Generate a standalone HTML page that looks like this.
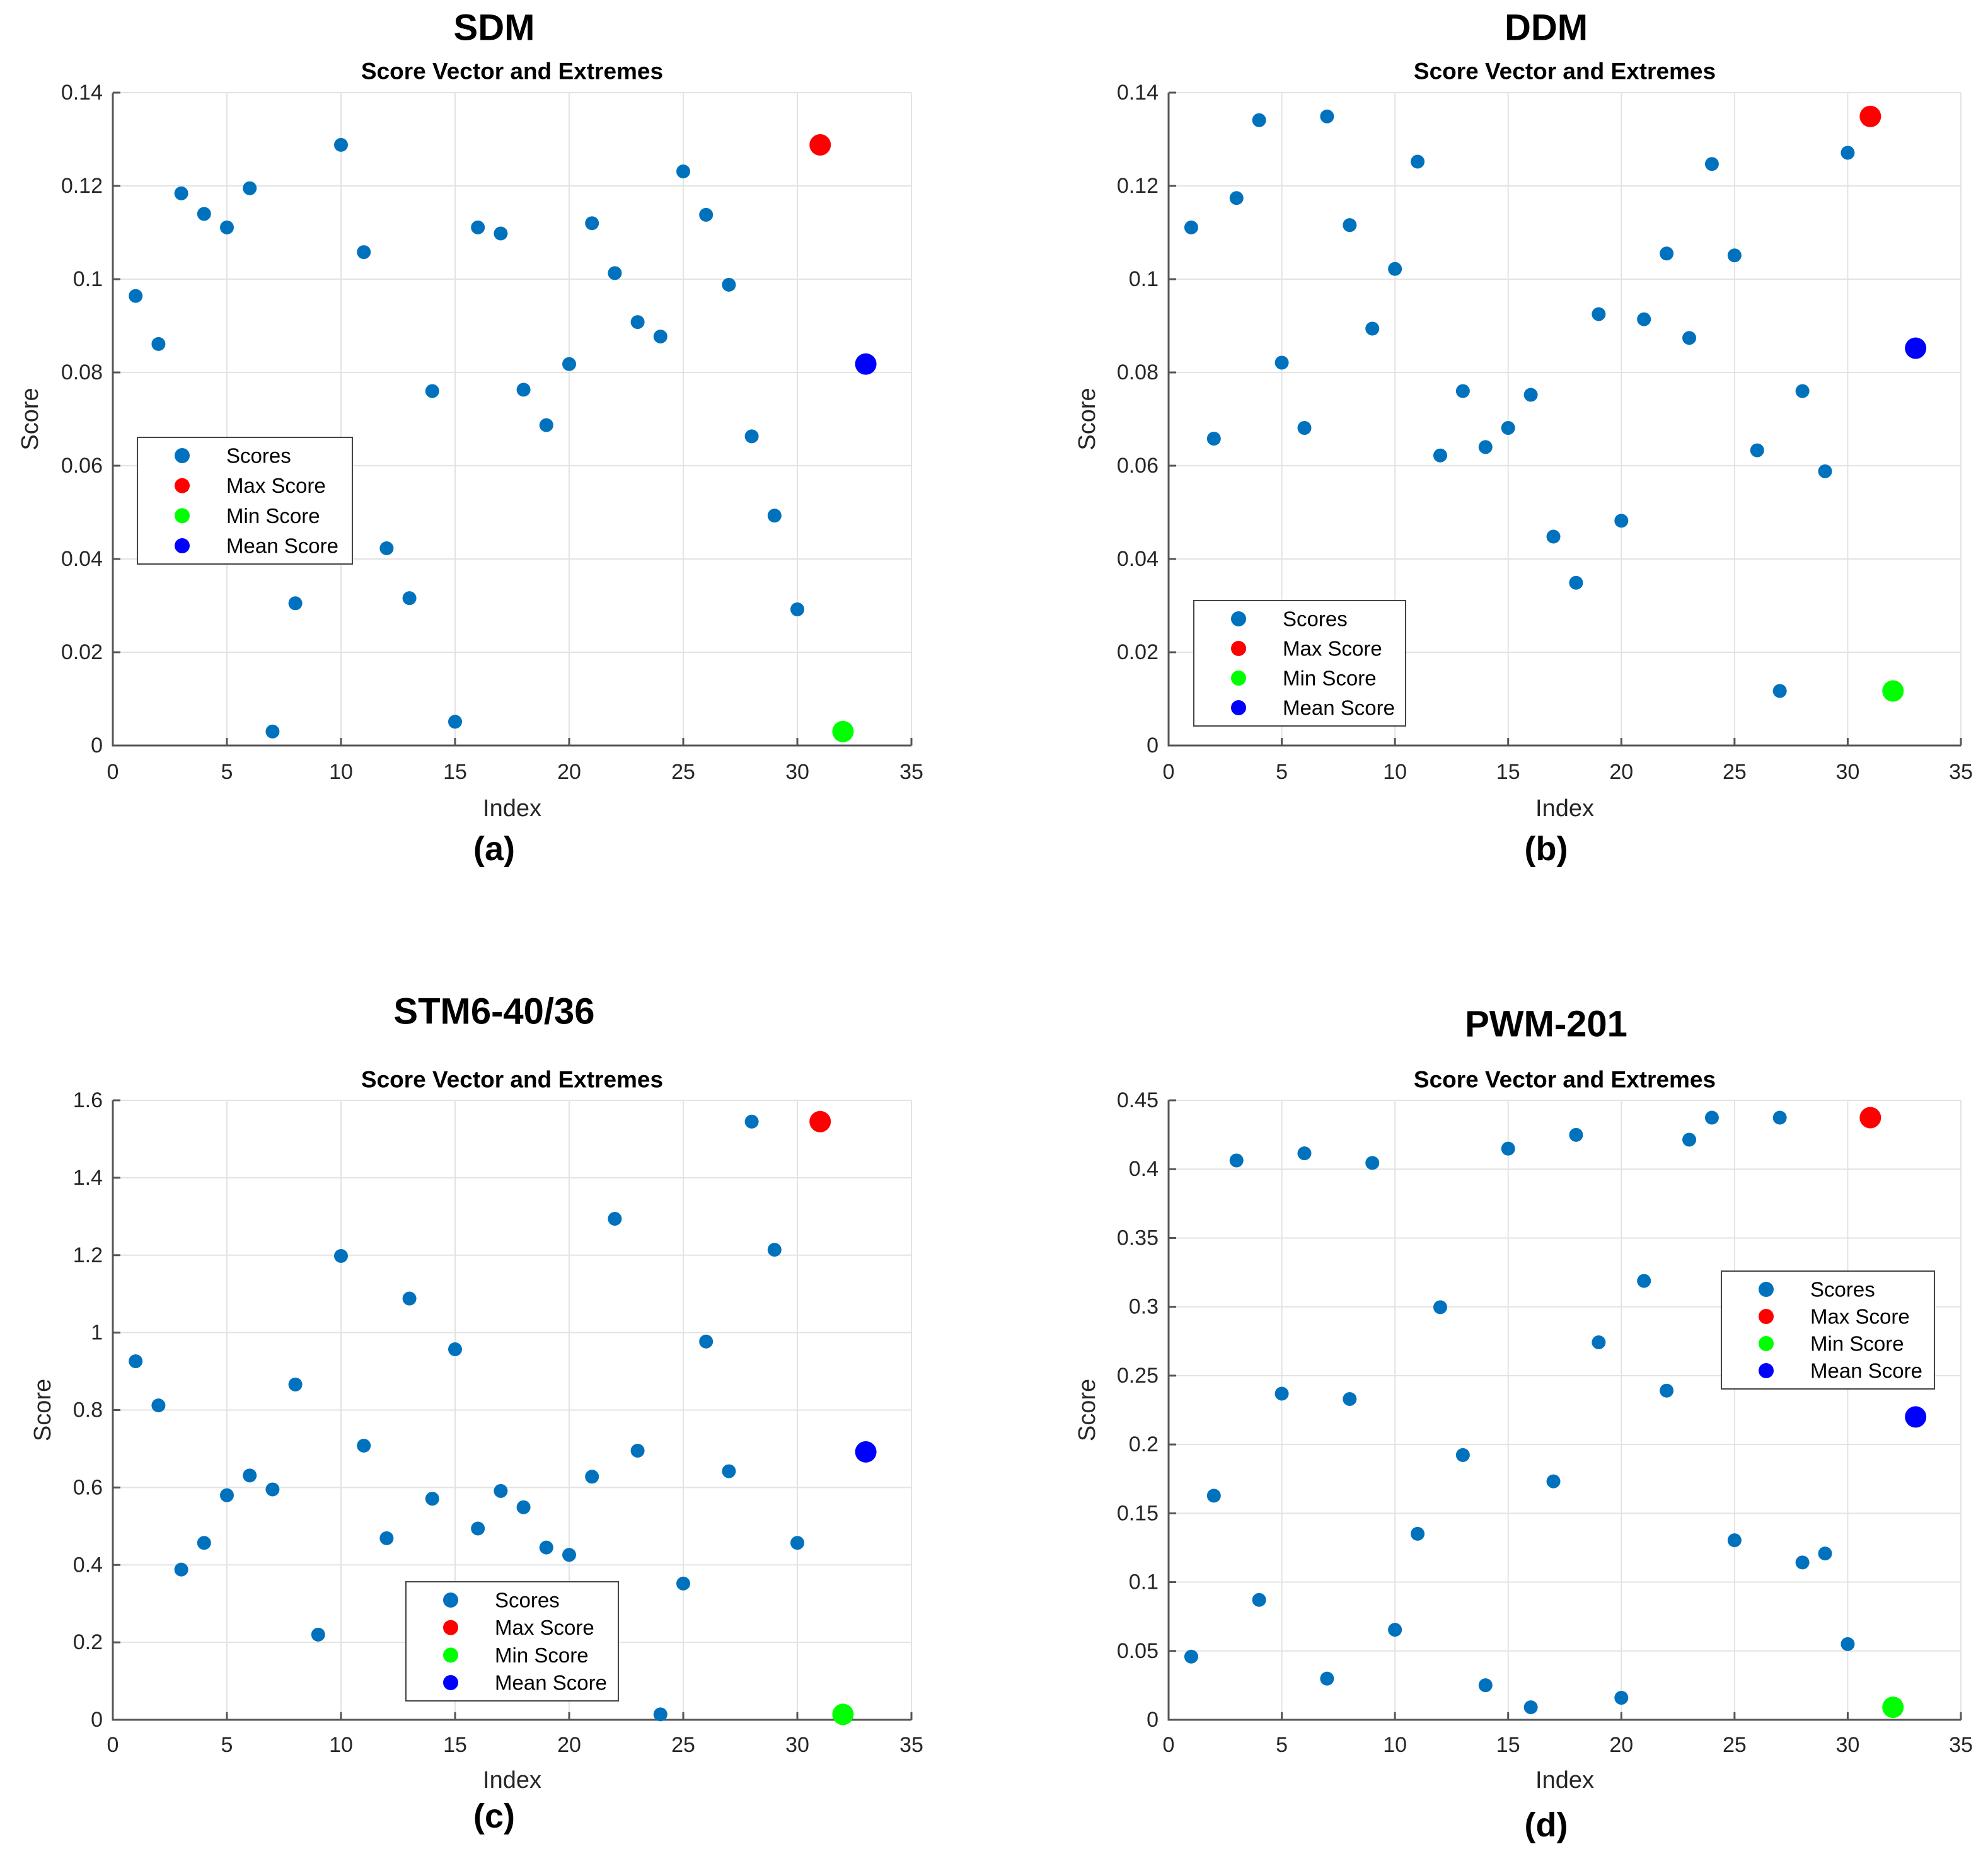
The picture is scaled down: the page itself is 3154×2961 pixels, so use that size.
<!DOCTYPE html>
<html><head><meta charset="utf-8"><style>
html,body{margin:0;padding:0;background:#fff;}
svg{display:block;}
</style></head>
<body>
<svg id="fig" xmlns="http://www.w3.org/2000/svg" width="3154" height="2961" viewBox="0 0 3154 2961"></svg>
<script>
// ---- data ----
const indexA = [1,2,3,4,5,6,7,8,10,11,12,13,14,15,16,17,18,19,20,21,22,23,24,25,26,27,28,29,30];
const scoresA = [0.0964,0.0861,0.1184,0.1140,0.1111,0.1195,0.0030,0.0305,0.1288,0.1058,0.0423,0.0316,0.0760,0.0051,0.1111,0.1098,0.0763,0.0687,0.0818,0.1120,0.1013,0.0908,0.0877,0.1231,0.1138,0.0988,0.0663,0.0493,0.0292];
const extremesA = [0.1288,0.0030,0.0818];

const indexB = [1,2,3,4,5,6,7,8,9,10,11,12,13,14,15,16,17,18,19,20,21,22,23,24,25,26,27,28,29,30];
const scoresB = [0.1111,0.0658,0.1174,0.1341,0.0821,0.0681,0.1349,0.1116,0.0894,0.1022,0.1252,0.0622,0.0760,0.0640,0.0681,0.0752,0.0448,0.0349,0.0925,0.0482,0.0914,0.1055,0.0874,0.1247,0.1051,0.0633,0.0117,0.0760,0.0588,0.1271];
const extremesB = [0.1349,0.0117,0.0852];

const indexC = [1,2,3,4,5,6,7,8,9,10,11,12,13,14,15,16,17,18,19,20,21,22,23,24,25,26,27,28,29,30];
const scoresC = [0.926,0.812,0.388,0.457,0.580,0.631,0.595,0.866,0.220,1.198,0.708,0.469,1.088,0.571,0.957,0.494,0.591,0.549,0.445,0.426,0.628,1.294,0.695,0.014,0.352,0.977,0.642,1.545,1.214,0.457];
const extremesC = [1.545,0.014,0.692];

const indexD = [1,2,3,4,5,6,7,8,9,10,11,12,13,14,15,16,17,18,19,20,21,22,23,24,25,27,28,29,30];
const scoresD = [0.0459,0.1628,0.4063,0.0871,0.2369,0.4115,0.0299,0.2330,0.4045,0.0654,0.1351,0.2997,0.1923,0.0251,0.4149,0.0091,0.1732,0.4249,0.2742,0.0160,0.3188,0.2391,0.4214,0.4374,0.1304,0.4374,0.1143,0.1208,0.0550];
const extremesD = [0.4374,0.0091,0.2200];

const extremeIndex = [31,32,33];
const xTicks = [0,5,10,15,20,25,30,35];
const yTicksA = ['0','0.02','0.04','0.06','0.08','0.1','0.12','0.14'];
const yTicksC = ['0','0.2','0.4','0.6','0.8','1','1.2','1.4','1.6'];
const yTicksD = ['0','0.05','0.1','0.15','0.2','0.25','0.3','0.35','0.4','0.45'];
const legendLabels = ['Scores','Max Score','Min Score','Mean Score'];
const mainTitles = ['SDM','DDM','STM6-40/36','PWM-201'];
const panelLabels = ['(a)','(b)','(c)','(d)'];

// ---- drawing ----
const NS='http://www.w3.org/2000/svg';
const svg=document.getElementById('fig');
const COLORS=['#0072BD','#FF0000','#00FF00','#0000FF'];
function mk(tag,attrs,parent){const e=document.createElementNS(NS,tag);for(const k in attrs)e.setAttribute(k,attrs[k]);(parent||svg).appendChild(e);return e;}
function txt(s,attrs,parent){const e=mk('text',attrs,parent);e.textContent=s;return e;}

const panels=[
 {id:'a',x0:179,x1:1446,y0:147,y1:1183,ymax:0.14,ticks:yTicksA,idx:indexA,vals:scoresA,ext:extremesA,
  titleY:44,subY:113,tickY:1225,labY:1283,panY:1347,ylabX:48,leg:[218,694,559,895]},
 {id:'b',x0:1854,x1:3111,y0:147,y1:1183,ymax:0.14,ticks:yTicksA,idx:indexB,vals:scoresB,ext:extremesB,
  titleY:44,subY:113,tickY:1225,labY:1283,panY:1347,ylabX:1725,leg:[1894,953,2230,1152]},
 {id:'c',x0:179,x1:1446,y0:1746,y1:2729,ymax:1.6,ticks:yTicksC,idx:indexC,vals:scoresC,ext:extremesC,
  titleY:1605,subY:1713,tickY:2769,labY:2825,panY:2882,ylabX:68,leg:[644,2510,981,2699]},
 {id:'d',x0:1854,x1:3111,y0:1746,y1:2729,ymax:0.45,ticks:yTicksD,idx:indexD,vals:scoresD,ext:extremesD,
  titleY:1625,subY:1713,tickY:2769,labY:2825,panY:2896,ylabX:1725,leg:[2731,2017,3069,2204]}
];

panels.forEach((p,pi)=>{
  const g=mk('g',{});
  
  
  const sx=v=>p.x0+(v/35)*(p.x1-p.x0);
  const sy=v=>p.y1-(v/p.ymax)*(p.y1-p.y0);
  const cx=(p.x0+p.x1)/2;
  const t=txt(mainTitles[pi],{x:(pi%2===0?784:2453),y:p.titleY,'text-anchor':'middle','dominant-baseline':'central','font-family':'Liberation Sans, sans-serif','font-weight':'bold','font-size':58,fill:'#000'},g);
  
  
  const st=txt('Score Vector and Extremes',{x:cx,y:p.subY,'text-anchor':'middle','dominant-baseline':'central','font-family':'Liberation Sans, sans-serif','font-weight':'bold','font-size':37,fill:'#000'},g);
  
  
  xTicks.forEach(v=>{
    const l=mk('line',{x1:sx(v),x2:sx(v),y1:p.y0,y2:p.y1,stroke:'#e3e3e3','stroke-width':2},g);
    
    
  });
  p.ticks.forEach(s=>{
    const v=parseFloat(s);
    const l=mk('line',{x1:p.x0,x2:p.x1,y1:sy(v),y2:sy(v),stroke:'#e3e3e3','stroke-width':2},g);
    
    
  });
  const ax=mk('path',{d:`M${p.x0},${p.y0}V${p.y1}H${p.x1}`,fill:'none',stroke:'#555','stroke-width':3},g);
  
  
  xTicks.forEach(v=>{
    mk('line',{x1:sx(v),x2:sx(v),y1:p.y1,y2:p.y1-12,stroke:'#555','stroke-width':3},g);
    const tl=txt(String(v),{x:sx(v),y:p.tickY,'text-anchor':'middle','dominant-baseline':'central','font-family':'Liberation Sans, sans-serif','font-size':34,fill:'#262626'},g);
    
    
  });
  p.ticks.forEach(s=>{
    const v=parseFloat(s);
    mk('line',{x1:p.x0,x2:p.x0+12,y1:sy(v),y2:sy(v),stroke:'#555','stroke-width':3},g);
    const tl=txt(s,{x:p.x0-16,y:sy(v),'text-anchor':'end','dominant-baseline':'central','font-family':'Liberation Sans, sans-serif','font-size':34,fill:'#262626'},g);
    
    
  });
  const xl=txt('Index',{x:cx,y:p.labY,'text-anchor':'middle','dominant-baseline':'central','font-family':'Liberation Sans, sans-serif','font-size':38,fill:'#262626'},g);
  
  
  const yl=txt('Score',{x:p.ylabX,y:(p.y0+p.y1)/2,'text-anchor':'middle','dominant-baseline':'central','font-family':'Liberation Sans, sans-serif','font-size':38,fill:'#262626',transform:`rotate(-90 ${p.ylabX} ${(p.y0+p.y1)/2})`},g);
  
  
  const pl=txt(panelLabels[pi],{x:(pi%2===0?784:2453),y:p.panY,'text-anchor':'middle','dominant-baseline':'central','font-family':'Liberation Sans, sans-serif','font-weight':'bold','font-size':54,fill:'#000'},g);
  
  
  p.idx.forEach((ix,i)=>{
    const c=mk('circle',{cx:sx(ix),cy:sy(p.vals[i]),r:11,fill:COLORS[0]},g);
    
    
  });
  extremeIndex.forEach((ix,i)=>{
    const c=mk('circle',{cx:sx(ix),cy:sy(p.ext[i]),r:17,fill:COLORS[i+1]},g);
    
    
  });
  const [lx0,ly0,lx1,ly1]=p.leg;
  const lg=mk('g',{},g);
  
  
  mk('rect',{x:lx0,y:ly0,width:lx1-lx0,height:ly1-ly0,fill:'#fff',stroke:'#444','stroke-width':2},lg);
  const step=(ly1-ly0-58)/3;
  legendLabels.forEach((s,i)=>{
    const yy=ly0+29+i*step;
    const m=mk('circle',{cx:lx0+71,cy:yy,r:12,fill:COLORS[i]},lg);
    
    
    const lt=txt(s,{x:lx0+141,y:yy,'dominant-baseline':'central','font-family':'Liberation Sans, sans-serif','font-size':33,fill:'#000'},lg);
    
    
  });
});
</script>
</body></html>
